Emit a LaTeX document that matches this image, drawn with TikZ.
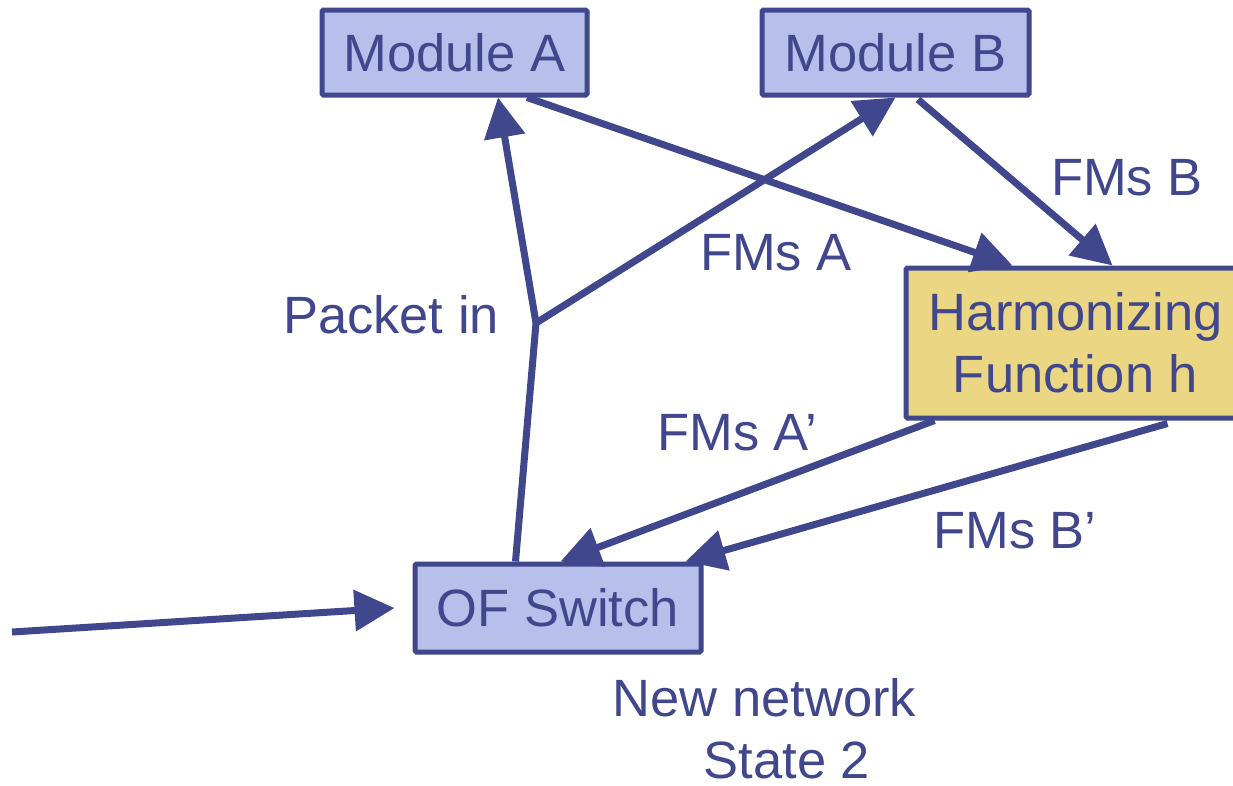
\documentclass[tikz,border=0pt]{standalone}
\usepackage{fontspec}
\setmainfont{Liberation Sans}
\usetikzlibrary{arrows.meta}

\definecolor{ink}{RGB}{64,71,140}
\definecolor{boxblue}{RGB}{182,192,235}
\definecolor{boxgold}{RGB}{235,214,131}

\tikzset{
  every node/.style={text=ink, font=\fontsize{52.5}{62}\selectfont},
  box/.style={draw=ink, line width=5pt, fill=boxblue, inner sep=0pt, rounded corners=1.5pt},
  oneline/.style={text height=37.6pt, text depth=0pt},
  flow/.style={draw=ink, line width=7pt, -{Triangle[length=40pt,width=40pt]}},
  wire/.style={draw=ink, line width=7pt},
  lbl/.style={anchor=base, inner sep=0pt},
}

\begin{document}
\begin{tikzpicture}[x=1pt, y=-1pt]
  \useasboundingbox (0,0) rectangle (1233,785);

  % boxes
  \node[box, oneline, minimum width=265pt, minimum height=85pt] (ma) at (454.5,52.5) {Module A};
  \node[box, oneline, minimum width=267pt, minimum height=85pt] (mb) at (895.5,52.5) {Module B};
  \node[box, fill=boxgold, align=center, minimum width=339pt, minimum height=150pt] (hf) at (1075.5,343) {Harmonizing\\Function h};
  \node[box, oneline, minimum width=286pt, minimum height=88pt] (sw) at (558,608) {OF Switch};

  % branch point of the packet-in path
  \coordinate (j) at (536,323);
  \coordinate (src) at (12,632);

  % packet in: switch up to the branch, then to both modules
  \draw[wire] ([xshift=103pt]sw.north west) -- (j);
  \draw[flow] (j) -- ([xshift=43.5pt]ma.south);
  \draw[flow] (j) -- ([xshift=0pt]mb.south);

  % flow mods from the modules into h
  \draw[flow] ([xshift=72.5pt]ma.south) -- ([xshift=109pt]hf.north west);
  \draw[flow] ([xshift=22.5pt,yshift=-2pt]mb.south) -- ([xshift=209pt]hf.north west);

  % harmonized flow mods back to the switch
  \draw[flow] ([xshift=31pt]hf.south west) -- ([xshift=148pt]sw.north west);
  \draw[flow] ([xshift=264pt,yshift=-3pt]hf.south west) -- ([xshift=273pt]sw.north west);

  % incoming traffic
  \draw[flow] (src) -- ([xshift=-18pt]sw.west);

  % labels
  \node[lbl] (lfb) at (1127,195) {FMs B};
  \node[lbl] (lfa) at (776,270) {FMs A};
  \node[lbl] (lpi) at (391,333) {Packet in};
  \node[lbl] (lfa2) at (737,450) {FMs A’};
  \node[lbl] (lfb2) at (1015,548) {FMs B’};
  \node[lbl] (ln1) at (764.5,716) {New network};
  \node[lbl] (ln2) at (787,778) {State 2};
\end{tikzpicture}
\end{document}
